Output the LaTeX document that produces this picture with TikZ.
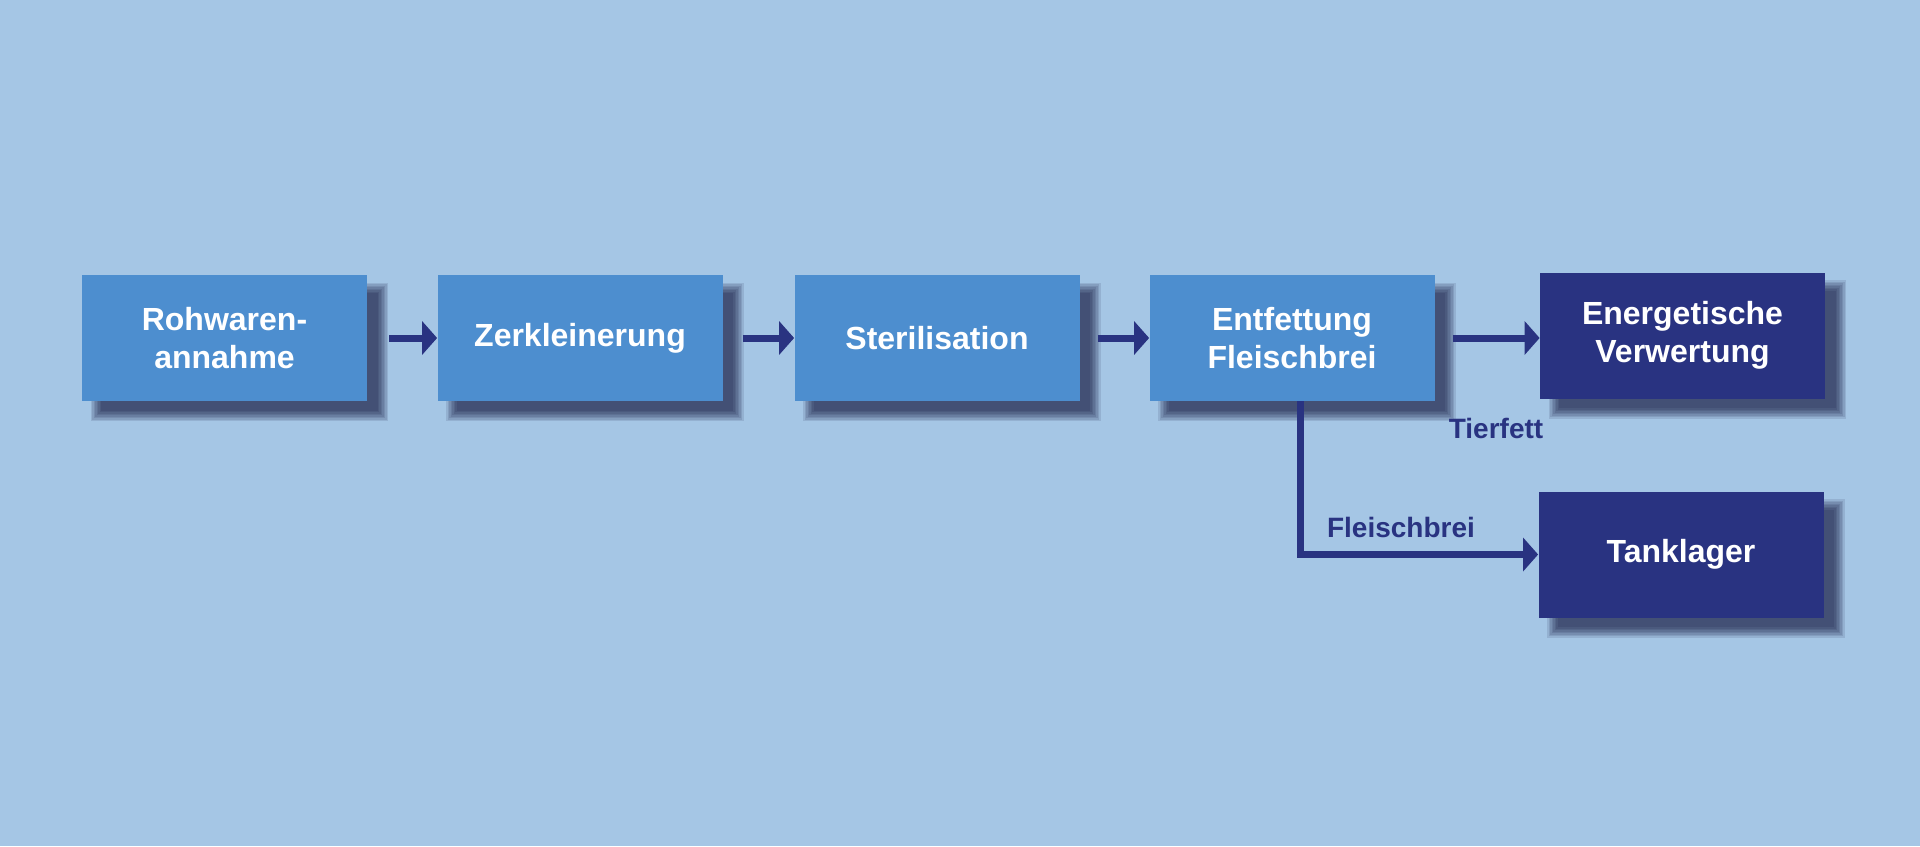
\documentclass[tikz,border=0pt]{standalone}
\usepackage{fontspec}
\setmainfont{Liberation Sans}
\usetikzlibrary{arrows.meta,backgrounds}
\definecolor{hintergrund}{RGB}{165,198,229}
\definecolor{hellblau}{RGB}{77,142,207}
\definecolor{dunkelblau}{RGB}{41,51,129}

\begin{document}
\begin{tikzpicture}[x=0.5pt,y=-0.5pt,>={Triangle[length=7.5pt,width=16.5pt]},
  kasten/.style={fill=hellblau,minimum width=142.5pt,minimum height=63pt,align=center,
    text=white,font=\fontsize{16}{19}\selectfont\bfseries},
  ziel/.style={kasten,fill=dunkelblau},
  schatten/.style={fill=black!85!blue,opacity=0.1},
  pfeil/.style={->,draw=dunkelblau,line width=3.5pt},
  beschr/.style={text=dunkelblau,font=\fontsize{14}{17}\selectfont\bfseries}]

\node[kasten](R) at (224.5,338){Rohwaren-\\annahme};
\node[kasten](Z) at (580,338){Zerkleinerung};
\node[kasten](S) at (937,338){Sterilisation};
\node[kasten](E) at (1292,338){Entfettung\\Fleischbrei};
\node[ziel](V) at (1682.5,335.5){Energetische\\Verwertung};
\node[ziel](T) at (1681,554.5){Tanklager};
\node[beschr](L1) at (1496,428){Tierfett};
\node[beschr](L2) at (1401,527){Fleischbrei};

\draw[pfeil,shorten <=11pt](R)--(Z);
\draw[pfeil,shorten <=10pt](Z)--(S);
\draw[pfeil,shorten <=9pt](S)--(E);
\draw[pfeil,shorten <=9pt](E.east)--(E.east-|V.west);
\draw[pfeil]([xshift=4pt]E.south)|-(T.west);

% Hintergrund und weiche Schatten
\begin{scope}[on background layer]
\fill[hintergrund](0,0) rectangle (1920,846);
\foreach \n in {R,Z,S,E,V,T}
  \foreach \i in {0,...,7}
    \fill[schatten]([shift={(\i*0.75pt+4.5pt,\i*0.75pt-10pt)}]\n.south west) rectangle ([shift={(10.5pt-\i*0.75pt,-4pt-\i*0.75pt)}]\n.north east);
\end{scope}
\end{tikzpicture}
\end{document}
